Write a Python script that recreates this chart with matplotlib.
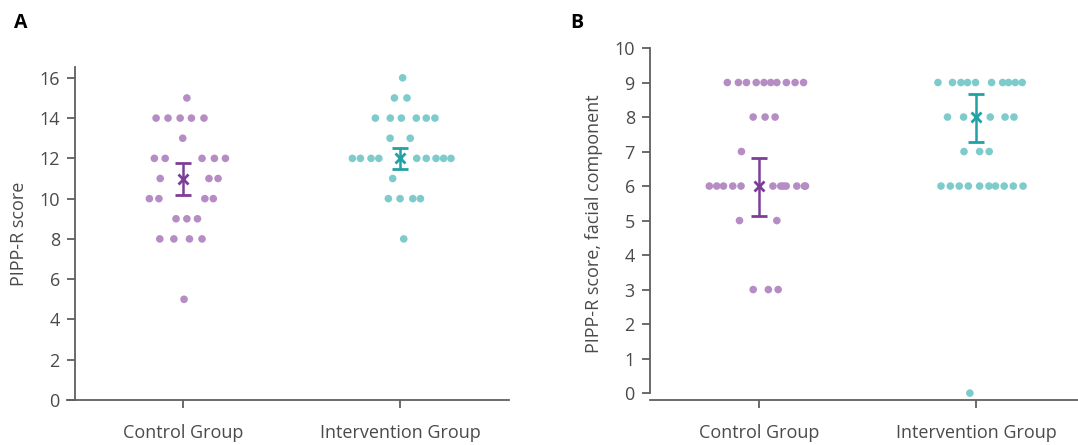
import numpy as np
import matplotlib
matplotlib.use("Agg")
from matplotlib import pyplot as plt

plt.rcParams['font.family'] = ['Open Sans', 'DejaVu Sans']

groups = ["Control Group", "Intervention Group"]

# panel A: total PIPP-R score (value, horizontal jitter)
a_ctrl_y = [15, 14, 14, 14, 14, 14, 13, 12, 12, 12, 12, 12, 11, 11, 11,
            10, 10, 10, 10, 9, 9, 9, 8, 8, 8, 8, 5]
a_ctrl_dx = [0.016, -0.126, -0.071, -0.015, 0.037, 0.095, -0.003,
             -0.134, -0.084, 0.086, 0.143, 0.194, -0.107, 0.118, 0.160,
             -0.157, -0.113, 0.099, 0.138, -0.034, 0.016, 0.065,
             -0.109, -0.044, 0.028, 0.086, 0.003]
a_int_y = [16, 15, 15, 14, 14, 14, 14, 14, 14, 13, 13,
           12, 12, 12, 12, 12, 12, 12, 12, 12, 11, 10, 10, 10, 10, 8]
a_int_dx = [0.012, -0.026, 0.032, -0.114, -0.045, 0.006, 0.075, 0.121, 0.161,
            -0.046, 0.047, -0.220, -0.183, -0.134, -0.098, 0.077, 0.121,
            0.166, 0.201, 0.235, -0.034, -0.054, 0.0, 0.059, 0.094, 0.017]
a_mean = [11.0, 12.0]
a_lo = [10.19, 11.46]
a_hi = [11.77, 12.5]

# panel B: facial component
b_ctrl_y = [9] * 10 + [8] * 3 + [7] + [6] * 12 + [5] * 2 + [3] * 3
b_ctrl_dx = [-0.145, -0.094, -0.057, -0.012, 0.024, 0.055, 0.083, 0.127, 0.167, 0.206,
             -0.026, 0.029, 0.075,
             -0.080,
             -0.228, -0.194, -0.163, -0.120, -0.082, 0.065, 0.101, 0.112, 0.126,
             0.175, 0.210, 0.215,
             -0.089, 0.083,
             -0.026, 0.044, 0.089]
b_int_y = [9] * 10 + [8] * 5 + [7] * 3 + [6] * 10 + [0]
b_int_dx = [-0.175, -0.108, -0.069, -0.039, -0.002, 0.072, 0.123, 0.150, 0.181, 0.213,
            -0.131, -0.057, 0.066, 0.134, 0.175,
            -0.055, 0.017, 0.061,
            -0.161, -0.118, -0.077, -0.035, 0.017, 0.060, 0.090, 0.130, 0.172, 0.217,
            -0.028]
b_mean = [6.0, 8.0]
b_lo = [5.13, 7.27]
b_hi = [6.82, 8.67]

dot_colors = ['#b68cc4', '#7ecbcb']
bar_colors = ['#7d3e98', '#21a0a6']
axis_col = '#5f5f5f'
text_col = '#4a4a4a'

fig = plt.figure(figsize=(10.78, 4.45), dpi=100)
axA = fig.add_axes([0.0622, 0.1011, 0.410, 0.748])
axB = fig.add_axes([0.603, 0.1011, 0.397, 0.791])


def draw(ax, ys, dxs, means, los, his):
    for i in range(2):
        x = i + np.array(dxs[i])
        ax.scatter(x, ys[i], s=30, color=dot_colors[i], edgecolors='none', zorder=2)
        m = means[i]
        ax.errorbar([i], [m], yerr=[[m - los[i]], [his[i] - m]], fmt='x',
                    color=bar_colors[i], ms=6.5, mew=2, elinewidth=1.8,
                    capsize=6, capthick=1.8, zorder=3)
    ax.set_xticks([0, 1])
    ax.set_xticklabels(groups)
    for s in ['top', 'right']:
        ax.spines[s].set_visible(False)
    for s in ['left', 'bottom']:
        ax.spines[s].set_color(axis_col)
        ax.spines[s].set_linewidth(1.3)
    ax.tick_params(direction='out', length=6, width=1.3, color=axis_col,
                   labelcolor=text_col, labelsize=13, pad=5)
    ax.tick_params(axis='x', pad=11)


draw(axA, [a_ctrl_y, a_int_y], [a_ctrl_dx, a_int_dx], a_mean, a_lo, a_hi)
axA.set_xlim(-0.537, 1.503)
axA.set_ylim(0, 16.53)
axA.set_yticks(range(0, 17, 2))
axA.spines['left'].set_position(('data', -0.5))
axA.set_ylabel("PIPP-R score", color=text_col, fontsize=13, labelpad=8)

draw(axB, [b_ctrl_y, b_int_y], [b_ctrl_dx, b_int_dx], b_mean, b_lo, b_hi)
axB.set_xlim(-0.501, 1.47)
axB.set_ylim(-0.2, 10)
axB.set_yticks(range(0, 11))
axB.spines['left'].set_bounds(0, 10)
axB.set_ylabel("PIPP-R score, facial component", color=text_col, fontsize=13, labelpad=8)

fig.text(14 / 1078, 1 - 28 / 445, "A", fontsize=14, fontweight='bold', color='black')
fig.text(570 / 1078, 1 - 28 / 445, "B", fontsize=14, fontweight='bold', color='black')

fig.savefig("out.png", dpi=100)
